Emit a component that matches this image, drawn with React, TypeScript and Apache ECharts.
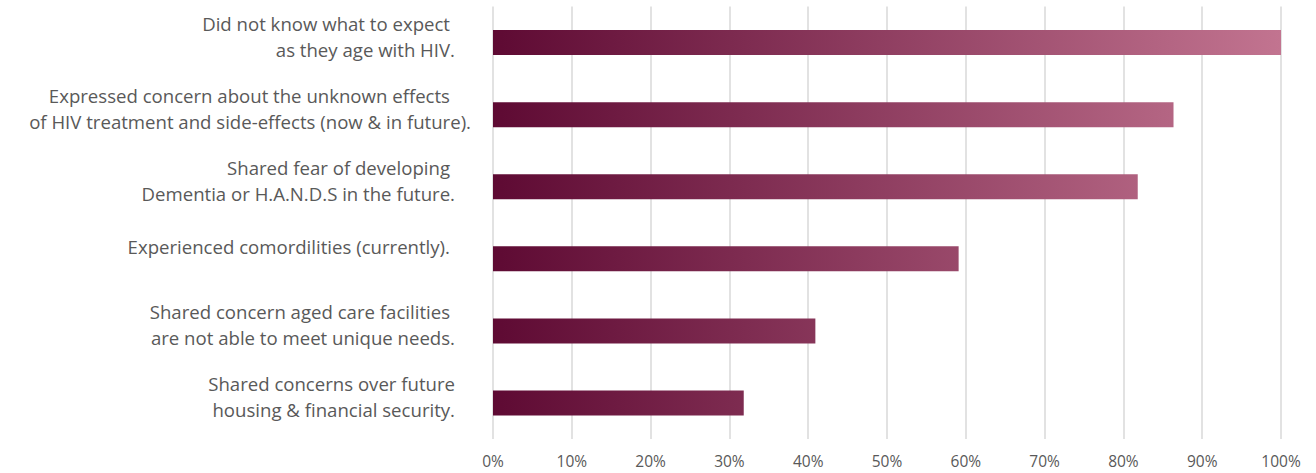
import React, { useEffect, useRef } from "react";
import * as echarts from "echarts";

const categories = [
  "{r21|Did not know what to expect}\n{r16|as they age with HIV.}\n{s2| }",
  "{r21|Expressed concern about the unknown effects}\n{r0|of HIV treatment and side-effects (now & in future).}\n{s2| }",
  "{r21|Shared fear of developing}\n{r16|Dementia or H.A.N.D.S in the future.}\n{s2| }",
  "{r21|Experienced comordilities (currently).}\n{s1| }",
  "{r21|Shared concern aged care facilities}\n{r16|are not able to meet unique needs.}\n{s2| }",
  "{r16|Shared concerns over future}\n{r16|housing & financial security.}\n{s2| }",
];
const values = [100, 86.36, 81.82, 59.09, 40.91, 31.82];
const tickValues = [0, 10, 20, 30, 40, 50, 60, 70, 80, 90, 100];

export default function App() {
  const ref = useRef<HTMLDivElement>(null);
  useEffect(() => {
    document.body.style.margin = "0";
    const chart = echarts.init(ref.current!, null, { renderer: "svg" });
    const labelBase = {
      fontFamily: "Open Sans",
      fontSize: 18.6,
      color: "#595959",
      lineHeight: 26,
      align: "right" as const,
    };
    chart.setOption({
      animation: false,
      grid: { left: 493, right: 35, top: 6.5, bottom: 34, containLabel: false },
      xAxis: {
        type: "value",
        min: tickValues[0],
        max: tickValues[tickValues.length - 1],
        interval: 10,
        axisLine: { show: false },
        axisTick: { show: false },
        splitLine: { show: true, lineStyle: { color: "#d9d9d9", width: 1.5 } },
        axisLabel: {
          formatter: "{value}%",
          fontFamily: "Open Sans",
          fontSize: 15.5,
          color: "#595959",
          margin: 14,
        },
      },
      yAxis: {
        type: "category",
        data: categories,
        inverse: true,
        axisLine: { show: false },
        axisTick: { show: false },
        axisLabel: {
          margin: 22,
          ...labelBase,
          rich: {
            r0: { ...labelBase, padding: [0, 0, 0, 0] },
            r16: { ...labelBase, padding: [0, 16, 0, 0] },
            r21: { ...labelBase, padding: [0, 21, 0, 0] },
            s1: { ...labelBase, fontSize: 8, lineHeight: 24 },
            s2: { ...labelBase, fontSize: 8, lineHeight: 13 },
          },
        },
      },
      series: [
        {
          type: "bar",
          data: values,
          barWidth: 25,
          itemStyle: {
            color: new echarts.graphic.LinearGradient(
              493, 0, 1281, 0,
              [
                { offset: 0, color: "#5e0a33" },
                { offset: 1, color: "#c27490" },
              ],
              true
            ),
          },
        },
      ],
    });
    return () => chart.dispose();
  }, []);
  return <div ref={ref} style={{ width: 1316, height: 473 }} />;
}
